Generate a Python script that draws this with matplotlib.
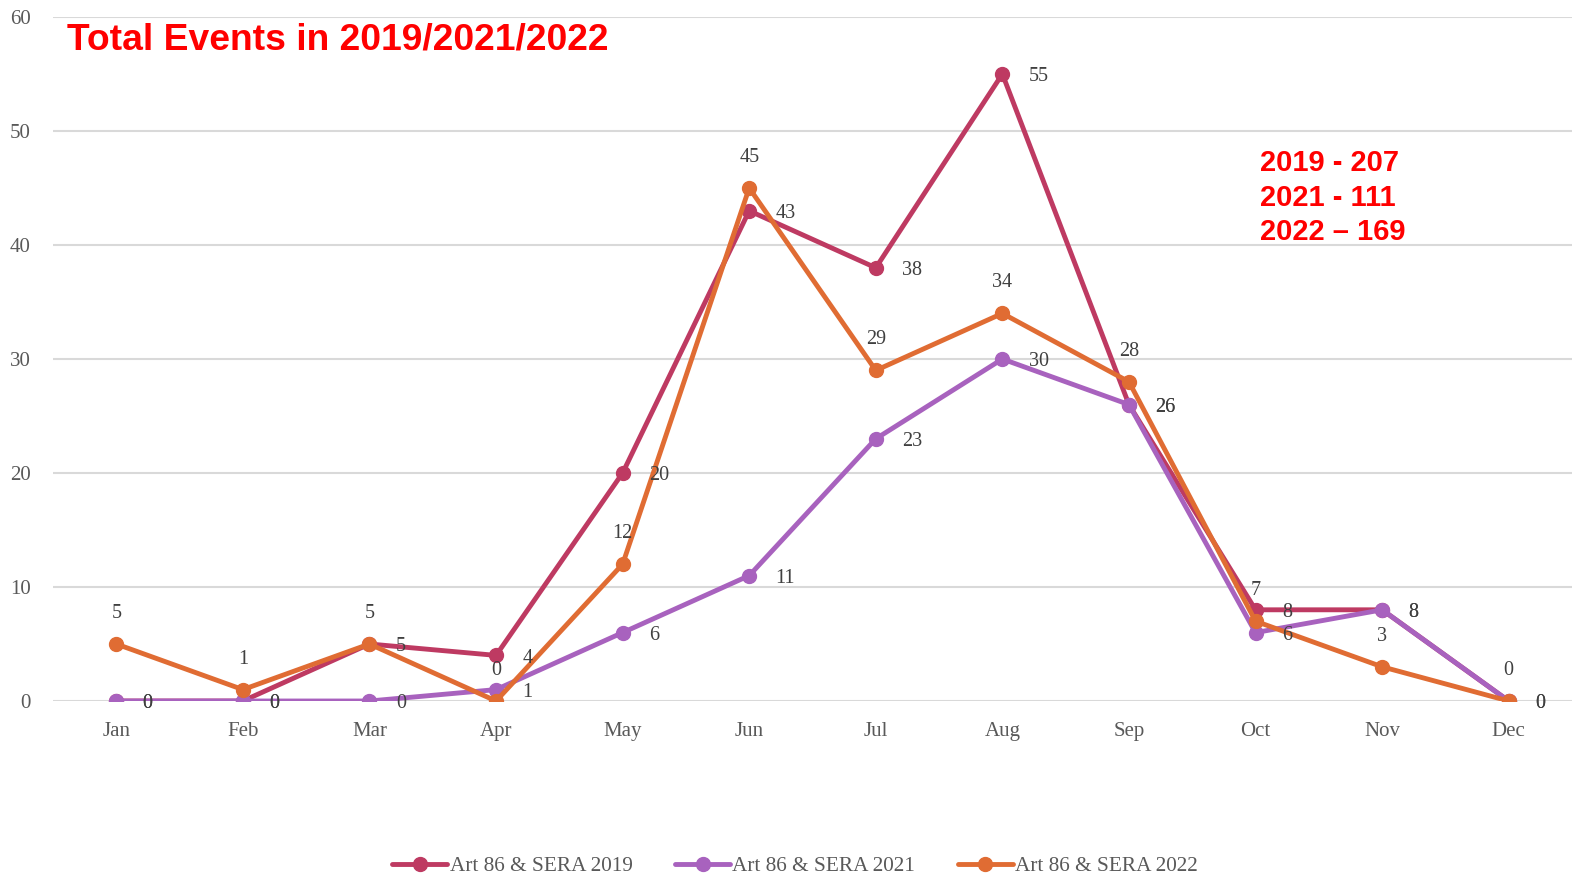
import matplotlib
matplotlib.use("Agg")
import matplotlib.pyplot as plt

months = ["Jan", "Feb", "Mar", "Apr", "May", "Jun", "Jul", "Aug", "Sep", "Oct", "Nov", "Dec"]
s2019 = [0, 0, 5, 4, 20, 43, 38, 55, 26, 8, 8, 0]
s2021 = [0, 0, 0, 1, 6, 11, 23, 30, 26, 6, 8, 0]
s2022 = [5, 1, 5, 0, 12, 45, 29, 34, 28, 7, 3, 0]
series_names = ["Art 86 & SERA 2019", "Art 86 & SERA 2021", "Art 86 & SERA 2022"]
totals_text = ["2019 - 207", "2021 - 111", "2022 \u2013 169"]
yticks = [0, 10, 20, 30, 40, 50, 60]

colors = ["#BE3A62", "#A862BE", "#E06C33"]
serif = ["Liberation Serif", "DejaVu Serif"]

fig = plt.figure(figsize=(15.72, 8.77), dpi=100)
ax = fig.add_axes([53 / 1572, 1 - 701 / 877, (1572 - 53) / 1572, (701 - 17) / 877])

x = list(range(len(months)))
data = [s2019, s2021, s2022]
for i, (vals, name) in enumerate(zip(data, series_names)):
    ax.plot(x, vals, color=colors[i], lw=3.5, marker="o", markersize=10,
            label=name, zorder=3 + i, solid_capstyle="round")

for xi, v in zip(x, s2019):
    ax.annotate(str(v), (xi, v), xytext=(19, -2), textcoords="offset points",
                ha="left", va="center", fontsize=14.5, color="#404040", family=serif, zorder=10)
for xi, v in zip(x, s2021):
    ax.annotate(str(v), (xi, v), xytext=(19, -2), textcoords="offset points",
                ha="left", va="center", fontsize=14.5, color="#404040", family=serif, zorder=10)
for xi, v in zip(x, s2022):
    ax.annotate(str(v), (xi, v), xytext=(0, 22), textcoords="offset points",
                ha="center", va="center", fontsize=14.5, color="#404040", family=serif, zorder=10)

ax.set_xlim(-0.5, len(months) - 0.5)
ax.set_ylim(0, 60)
ax.set_yticks(yticks)
ax.set_xticks(x)
ax.set_xticklabels(months)
ax.grid(axis="y", color="#D9D9D9", lw=1.5, zorder=0)
ax.set_axisbelow(True)
for sp in ax.spines.values():
    sp.set_visible(False)
ax.tick_params(axis="both", length=0, labelcolor="#595959", labelsize=15)
ax.tick_params(axis="y", pad=16)
ax.tick_params(axis="x", pad=15)
for lab in ax.get_xticklabels() + ax.get_yticklabels():
    lab.set_family(serif)

fig.text(67 / 1572, 1 - 40 / 877, "Total Events in 2019/2021/2022", color="#FF0000",
         fontsize=26.8, fontweight="bold", family=["Liberation Sans", "DejaVu Sans"],
         ha="left", va="center")
for k, t in enumerate(totals_text):
    fig.text(1260 / 1572, 1 - (163 + 34.5 * k) / 877, t, color="#FF0000",
             fontsize=21, fontweight="bold", family=["Liberation Sans", "DejaVu Sans"],
             ha="left", va="center")

leg = fig.legend(loc="center", bbox_to_anchor=(795 / 1572, 1 - 866 / 877), ncol=3,
                 frameon=False, prop={"family": serif, "size": 15.3}, handlelength=2.6,
                 handletextpad=0.1, columnspacing=2.0)
for t in leg.get_texts():
    t.set_color("#595959")

fig.savefig("out.png", dpi=100)
